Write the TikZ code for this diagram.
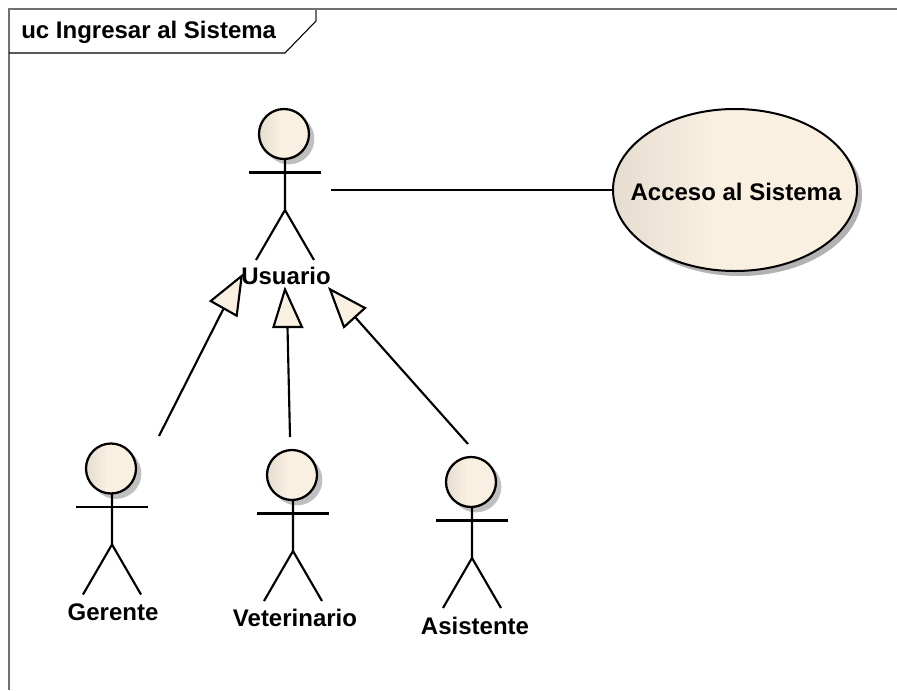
\documentclass[tikz,border=0pt]{standalone}
\usepackage{fontspec}
\setmainfont{Liberation Sans}
\usetikzlibrary{shapes.geometric}
\definecolor{skin}{HTML}{F9F0E2}
\definecolor{skinL}{HTML}{E6DDD0}
\definecolor{frameC}{HTML}{707070}
\pgfdeclarehorizontalshading{skinsh}{100bp}{color(0bp)=(skinL); color(25bp)=(skinL); color(46bp)=(skin); color(100bp)=(skin)}
\tikzset{
  x=0.75pt,y=-0.75pt,
  limb/.style={line width=1.6pt,black},
  lbl/.style={font=\bfseries\fontsize{18}{21}\selectfont,inner sep=0pt},
  headc/.style={circle,draw=black,line width=1.7pt,minimum size=37.5pt,inner sep=0pt,shading=skinsh},
  shad/.style={circle,fill=black!25,minimum size=38pt,inner sep=0pt},
  tri/.style={draw=black,line width=1.6pt,fill=skin,line join=miter},
  assoc/.style={line width=1.5pt,black}
}
\newcommand{\actor}[4]{%
  \node[shad] (#1s) at (#2+5,#3+5) {};
  \draw[limb] (#2+1,#3+25) -- (#2+1,#3+76) -- (#2-28,#3+126);
  \draw[limb] (#2+1,#3+76) -- (#2+30,#3+126);
  \draw[limb] (#2-35,#3+38.5) -- (#2+37,#3+38.5);
  \node[headc] (#1) at (#2,#3) {};
}
\begin{document}
\begin{tikzpicture}
\useasboundingbox (0,0) rectangle (897,690);
\fill[white] (0,0) rectangle (897,690);
\draw[frameC,line width=0.9pt] (9,690) -- (9,9) -- (897,9);
\coordinate (tabA) at (9,53);
\coordinate (tabB) at (285,53);
\coordinate (tabC) at (316,21);
\coordinate (tabD) at (316,9);
\draw[black,line width=0.8pt] (tabA) -- (tabB) -- (tabC);
\draw[frameC,line width=0.9pt] (tabC) -- (tabD);
\node[lbl,anchor=west] (title) at (21,32) {uc Ingresar al Sistema};

\fill[black!30] (740,195) ellipse [x radius=122,y radius=81];
\node[ellipse,draw=black,line width=1.5pt,minimum width=183pt,minimum height=121.5pt,inner sep=0pt,shading=skinsh] (uc) at (735,190) {};
\node[lbl] (uct) at (736,192) {Acceso al Sistema};

\actor{usuario}{284}{134}{}
\actor{gerente}{111}{468.5}{}
\actor{veterinario}{292}{475}{}
\actor{asistente}{471}{482}{}

\node[lbl] (lu) at (286,276) {Usuario};
\node[lbl] (lg) at (113,612) {Gerente};
\node[lbl] (lv) at (295,618) {Veterinario};
\node[lbl] (la) at (475,626) {Asistente};

\coordinate (assocA) at (331,190);
\draw[assoc] (assocA) -- (uc.west);

\coordinate (g1) at (159,436);
\coordinate (g1e) at (223.7,308.3);
\draw[limb] (g1) -- (g1e);
\draw[tri] (241.7,276) -- (210.7,301) -- (236.7,315.7) -- cycle;

\coordinate (v1) at (290,437);
\coordinate (v1e) at (287.5,327);
\draw[limb] (v1) -- (v1e);
\draw[tri] (285,289.5) -- (273.5,327) -- (302,327) -- cycle;

\coordinate (a1) at (468,444);
\coordinate (a1e) at (355,317);
\draw[limb] (a1) -- (a1e);
\draw[tri] (330,289.3) -- (344,327) -- (365,308) -- cycle;
\end{tikzpicture}
\end{document}
